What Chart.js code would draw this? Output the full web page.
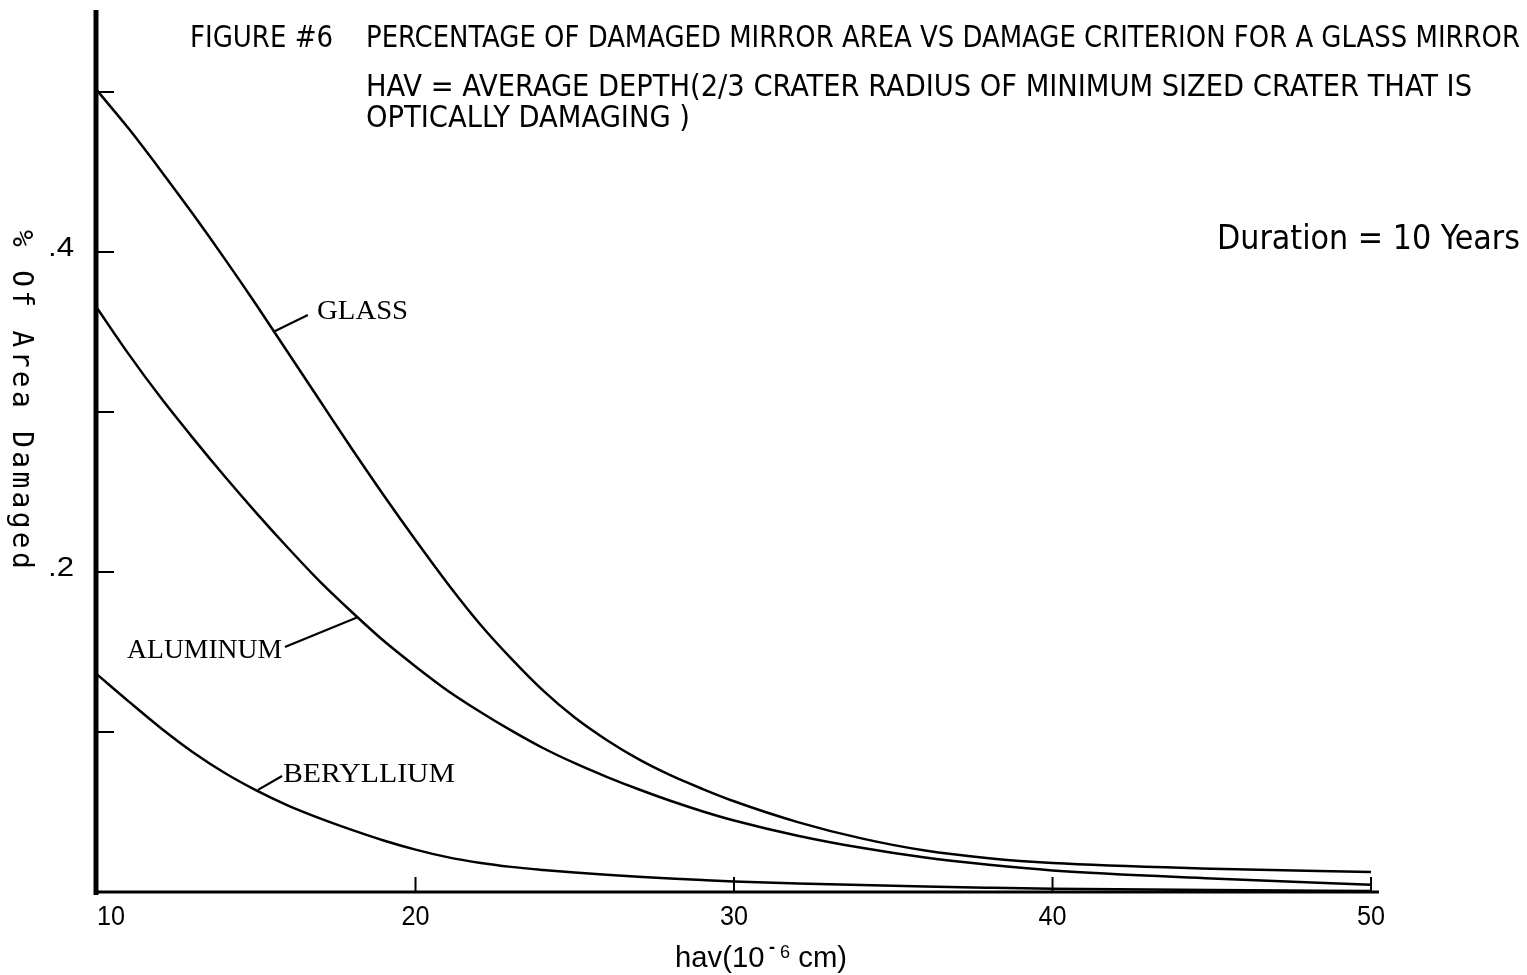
<!DOCTYPE html>
<html><head><meta charset="utf-8">
<script src="https://cdn.jsdelivr.net/npm/chart.js@4/dist/chart.umd.min.js"></script>
<style>html,body{margin:0;padding:0;background:#fff;overflow:hidden}#wrap{width:1527px;height:975px;position:relative}</style>
</head><body><div id="wrap"><canvas id="c" width="1527" height="975"></canvas></div>
<script>
// ---- data ----
const hav = [10,11,12,13,14,15,16,17,18,19,20,21,22,23,24,25,26,27,28,29,30,32,34,36,38,40,45,50];
const glass = [0.501,0.477,0.451,0.424,0.396,0.367,0.337,0.307,0.277,0.248,0.220,0.193,0.168,0.146,0.126,0.109,0.095,0.083,0.073,0.0645,0.0567,0.0437,0.0335,0.0259,0.0211,0.0181,0.0146,0.0125];
const aluminum = [0.365,0.336,0.309,0.284,0.260,0.237,0.215,0.194,0.175,0.157,0.141,0.126,0.113,0.101,0.090,0.0805,0.072,0.0642,0.057,0.0505,0.0447,0.0352,0.0276,0.0215,0.017,0.0135,0.0085,0.0045];
const beryllium = [0.136,0.119,0.1025,0.0875,0.0745,0.0635,0.054,0.046,0.0388,0.0322,0.0265,0.0218,0.0183,0.0157,0.0138,0.0122,0.0108,0.0096,0.0085,0.0075,0.0066,0.0053,0.0043,0.0034,0.0027,0.0021,0.0012,0.0006];
const seriesNames = ['GLASS','ALUMINUM','BERYLLIUM'];
const xTicks = [10,20,30,40,50];
const xTickLabels = ['10','20','30','40','50'];
const yTicks = [0.1,0.2,0.3,0.4,0.5];
const yTickLabels = ['','.2','','.4',''];
const titleLine1a = 'FIGURE #6';
const titleLine1b = 'PERCENTAGE OF DAMAGED MIRROR AREA VS DAMAGE CRITERION FOR A GLASS MIRROR';
const titleLine2 = 'HAV = AVERAGE DEPTH(2/3 CRATER RADIUS OF MINIMUM SIZED CRATER THAT IS';
const titleLine3 = 'OPTICALLY DAMAGING )';
const noteText = 'Duration = 10 Years';
const yTitle = '% Of Area Damaged';

// ---- helpers ----
const COND = '"Liberation Sans Narrow","DejaVu Sans Condensed","Liberation Sans",sans-serif';
function fitText(ctx, text, x, y, w, font, align, spacing) {
  ctx.save();
  ctx.font = font;
  if (spacing !== undefined) { try { ctx.letterSpacing = spacing + 'px'; } catch (e) {} }
  const m = ctx.measureText(text).width;
  const s = w / m;
  ctx.translate(x, y);
  ctx.scale(s, 1);
  ctx.textAlign = 'left';
  ctx.textBaseline = 'alphabetic';
  const x0 = align === 'right' ? -m : (align === 'center' ? -m / 2 : 0);
  ctx.fillText(text, x0, 0);
  ctx.restore();
}

const annotations = [
  {text: seriesNames[0], from: [15.53, 0.350], to: [16.62, 0.3606], tx: 16.91, ty: 0.358, w: 91, align: 'left'},
  {text: seriesNames[1], from: [18.2, 0.1719], to: [15.90, 0.1531], tx: 15.81, ty: 0.1463, w: 155, align: 'right'},
  {text: seriesNames[2], from: [15.055, 0.0638], to: [15.81, 0.0725], tx: 15.84, ty: 0.0688, w: 172, align: 'left'}
];

const decor = {
  id: 'decor',
  afterDatasetsDraw(chart) {
    const ctx = chart.ctx;
    const xs = chart.scales.x, ys = chart.scales.y;
    const x0 = xs.getPixelForValue(10), y0 = ys.getPixelForValue(0);
    const xEnd = xs.getPixelForValue(xs.max), yTop = ys.getPixelForValue(ys.max);
    ctx.save();
    ctx.strokeStyle = '#000'; ctx.fillStyle = '#000';
    ctx.lineCap = 'butt';
    // x axis
    ctx.lineWidth = 3;
    ctx.beginPath(); ctx.moveTo(x0, y0); ctx.lineTo(xEnd, y0); ctx.stroke();
    // y axis
    ctx.lineWidth = 5;
    ctx.beginPath(); ctx.moveTo(x0 - 1, yTop - 2); ctx.lineTo(x0 - 1, y0 + 3); ctx.stroke();
    // y ticks (inward)
    ctx.lineWidth = 2;
    yTicks.forEach(v => { const p = ys.getPixelForValue(v); ctx.beginPath(); ctx.moveTo(x0, p); ctx.lineTo(x0 + 17, p); ctx.stroke(); });
    // x ticks (inward)
    xTicks.forEach(v => { if (v === 10) return; const p = xs.getPixelForValue(v); ctx.beginPath(); ctx.moveTo(p, y0); ctx.lineTo(p, y0 - 15); ctx.stroke(); });
    // tick labels
    xTicks.forEach((v, i) => {
      const p = xs.getPixelForValue(v);
      fitText(ctx, xTickLabels[i], p, 925, 28, '28px "Liberation Sans",Arial,sans-serif', i === 0 ? 'left' : 'center');
    });
    yTicks.forEach((v, i) => {
      if (!yTickLabels[i]) return;
      const p = ys.getPixelForValue(v);
      fitText(ctx, yTickLabels[i], 74, p + 4, 26, '28px "Liberation Sans",Arial,sans-serif', 'right');
    });
    // x title with superscript
    const parts = [
      {t: 'hav(10', f: '29px "Liberation Sans",Arial,sans-serif', dy: 0},
      {t: ' ', f: '16px "Liberation Sans",Arial,sans-serif', dy: 0},
      {t: '-', f: 'bold 18px "Liberation Sans",Arial,sans-serif', dy: -14},
      {t: ' 6', f: '18px "Liberation Sans",Arial,sans-serif', dy: -9},
      {t: ' cm)', f: '29px "Liberation Sans",Arial,sans-serif', dy: 0}
    ];
    let nat = 0;
    parts.forEach(pp => { ctx.font = pp.f; pp.w = ctx.measureText(pp.t).width; nat += pp.w; });
    const sc = (847 - 675) / nat;
    ctx.save(); ctx.translate(675, 967); ctx.scale(sc, 1);
    let cx = 0;
    ctx.textAlign = 'left'; ctx.textBaseline = 'alphabetic';
    parts.forEach(pp => { ctx.font = pp.f; ctx.fillText(pp.t, cx, pp.dy); cx += pp.w; });
    ctx.restore();
    // y title rotated clockwise
    ctx.save();
    ctx.translate(13, 401);
    ctx.rotate(Math.PI / 2);
    fitText(ctx, yTitle, 0, 0, 342, '28px "DejaVu Sans Mono",monospace', 'center', 3.4);
    ctx.restore();
    // titles
    fitText(ctx, titleLine1a, 190, 47, 143, '31px ' + COND, 'left');
    fitText(ctx, titleLine1b, 366, 47, 1154, '31px ' + COND, 'left');
    fitText(ctx, titleLine2, 366, 96, 1106, '31px ' + COND, 'left');
    fitText(ctx, titleLine3, 366, 127, 324, '31px ' + COND, 'left');
    fitText(ctx, noteText, 1217, 249, 303, '33px ' + COND, 'left');
    // curve labels with leader lines
    ctx.lineWidth = 2.2;
    annotations.forEach(a => {
      ctx.beginPath();
      ctx.moveTo(xs.getPixelForValue(a.from[0]), ys.getPixelForValue(a.from[1]));
      ctx.lineTo(xs.getPixelForValue(a.to[0]), ys.getPixelForValue(a.to[1]));
      ctx.stroke();
      fitText(ctx, a.text, xs.getPixelForValue(a.tx), ys.getPixelForValue(a.ty), a.w, '28px "Liberation Serif","DejaVu Serif",serif', a.align);
    });
    ctx.restore();
  }
};

const mk = (arr) => hav.map((x, i) => ({x: x, y: arr[i]}));
const ds = (name, arr) => ({
  label: name, data: mk(arr), borderColor: '#000', borderWidth: 2.5,
  pointRadius: 0, fill: false, cubicInterpolationMode: 'monotone', clip: false
});

new Chart(document.getElementById('c').getContext('2d'), {
  type: 'line',
  data: {datasets: [ds(seriesNames[0], glass), ds(seriesNames[1], aluminum), ds(seriesNames[2], beryllium)]},
  options: {
    responsive: false, animation: false, devicePixelRatio: 1,
    layout: {padding: {left: 97, right: 148, top: 12, bottom: 83}},
    plugins: {legend: {display: false}, tooltip: {enabled: false}, title: {display: false}},
    scales: {
      x: {type: 'linear', min: 10, max: 50.25, display: false},
      y: {type: 'linear', min: 0, max: 0.55, display: false}
    }
  },
  plugins: [decor]
});
</script></body></html>
